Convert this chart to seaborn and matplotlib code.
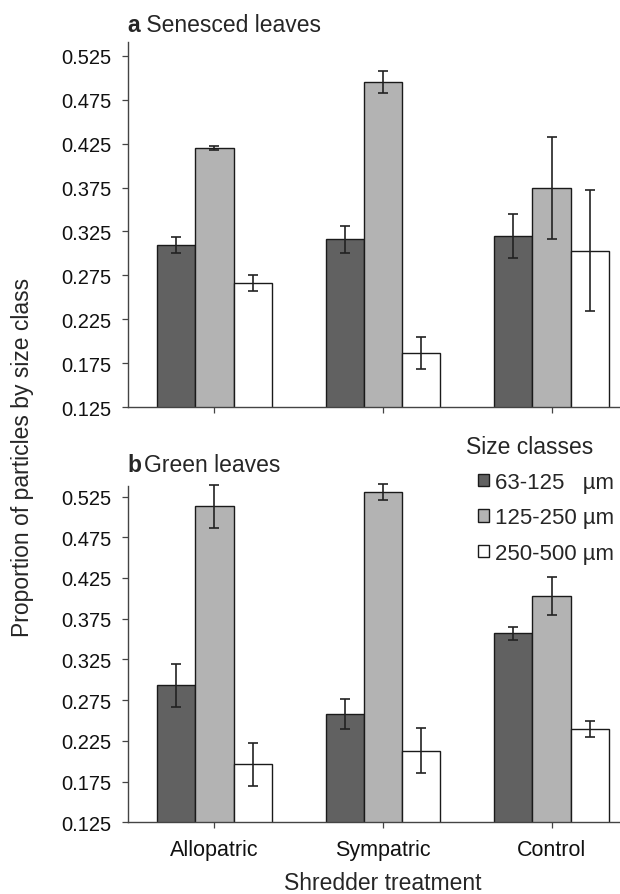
import numpy as np
import pandas as pd
import matplotlib
matplotlib.use("Agg")
import matplotlib.pyplot as plt
import seaborn as sns

# values
treatments = ["Allopatric", "Sympatric", "Control"]
size_classes = ["63-125   µm", "125-250 µm", "250-500 µm"]

senesced_mean = [[0.310, 0.316, 0.320],   # 63-125
                 [0.420, 0.495, 0.374],   # 125-250
                 [0.266, 0.187, 0.303]]   # 250-500
senesced_err = [[0.009, 0.015, 0.025],
                [0.002, 0.012, 0.058],
                [0.009, 0.018, 0.069]]

green_mean = [[0.293, 0.258, 0.357],
              [0.513, 0.531, 0.403],
              [0.196, 0.213, 0.240]]
green_err = [[0.026, 0.019, 0.008],
             [0.026, 0.010, 0.023],
             [0.027, 0.028, 0.010]]

yticks = [0.125, 0.175, 0.225, 0.275, 0.325, 0.375, 0.425, 0.475, 0.525]
colors = ["#616161", "#b3b3b3", "#ffffff"]

sns.set_style("ticks")
plt.rcParams["font.family"] = ["Liberation Sans", "DejaVu Sans"]


def long_table(means, errs):
    rows = []
    for i, sc in enumerate(size_classes):
        for j, tr in enumerate(treatments):
            rows.append({"treatment": tr, "size": sc, "value": means[i][j], "err": errs[i][j]})
    return pd.DataFrame(rows)


fig = plt.figure(figsize=(6.2, 8.95), dpi=100)
ax_top = fig.add_axes([0.207, 0.5438, 0.793, 0.4082])
ax_bot = fig.add_axes([0.207, 0.0801, 0.793, 0.3758])

bar_handles = None
for ax, means, errs, ytop in [(ax_top, senesced_mean, senesced_err, 0.5406),
                              (ax_bot, green_mean, green_err, 0.538)]:
    df = long_table(means, errs)
    sns.barplot(data=df, x="treatment", y="value", hue="size", order=treatments,
                hue_order=size_classes, palette=colors, errorbar=None, width=0.68,
                edgecolor="#1a1a1a", linewidth=1.0, saturation=1, ax=ax)
    bars = list(ax.containers)
    bar_handles = [c.patches[0] for c in bars]
    # error bars on top of each bar, positions taken from the drawn patches
    for k, cont in enumerate(bars):
        sub = df[df["size"] == size_classes[k]].set_index("treatment").loc[treatments]
        xs = [p.get_x() + p.get_width() / 2 for p in cont.patches]
        eb = ax.errorbar(xs, sub["value"], yerr=sub["err"], fmt="none", ecolor="#222222",
                         elinewidth=1.2, capsize=3.6, capthick=1.2)
        for art in eb.lines[1] + eb.lines[2]:
            art.set_clip_on(False)
    ax.set_ylim(0.125, ytop)
    ax.set_yticks(yticks)
    ax.set_yticklabels([f"{t:.3f}" for t in yticks])
    ax.set_xlim(-0.511, 2.406)
    ax.set_xlabel("")
    ax.set_ylabel("")
    ax.tick_params(axis="both", direction="out", length=4.3, width=0.9, colors="#444444",
                   labelcolor="#111111", pad=8)
    ax.tick_params(axis="y", labelsize=14.5)
    ax.tick_params(axis="x", labelsize=15.5)
    sns.despine(ax=ax)
    for s in ["left", "bottom"]:
        ax.spines[s].set_color("#444444")
        ax.spines[s].set_linewidth(1.0)
    if ax.legend_ is not None:
        ax.legend_.remove()

ax_top.set_xticklabels([])

# panel titles: bold letter followed by plain text
a_txt = fig.text(0.205, 1 - 32 / 895, "a", fontsize=16.5, fontweight="bold", va="baseline")
ax_top.annotate(" Senesced leaves", xy=(1, 0), xycoords=a_txt, fontsize=16.5,
                va="bottom", annotation_clip=False)
b_txt = fig.text(0.206, 1 - 472 / 895, "b", fontsize=16.5, fontweight="bold", va="baseline")
ax_bot.annotate("Green leaves", xy=(1, 0), xycoords=b_txt, xytext=(1.5, 0),
                textcoords="offset points", fontsize=16.5, va="bottom", annotation_clip=False)

fig.text(383 / 620, 1 - 884 / 895, "Shredder treatment", fontsize=16.5,
         ha="center", va="center")
fig.text(0.037, 0.489, "Proportion of particles by size class", rotation=90,
         fontsize=16.5, ha="center", va="center")

fig.text(466 / 620, 1 - 448 / 895, "Size classes", fontsize=16.5, ha="left", va="center")
fig.legend(bar_handles, size_classes,
           loc="upper right", bbox_to_anchor=(614 / 620, 1 - 473 / 895), frameon=False,
           fontsize=16, handlelength=0.5, handleheight=0.5, borderpad=0,
           handletextpad=0.25, labelspacing=0.65, borderaxespad=0)

fig.savefig("out.png", dpi=100)
